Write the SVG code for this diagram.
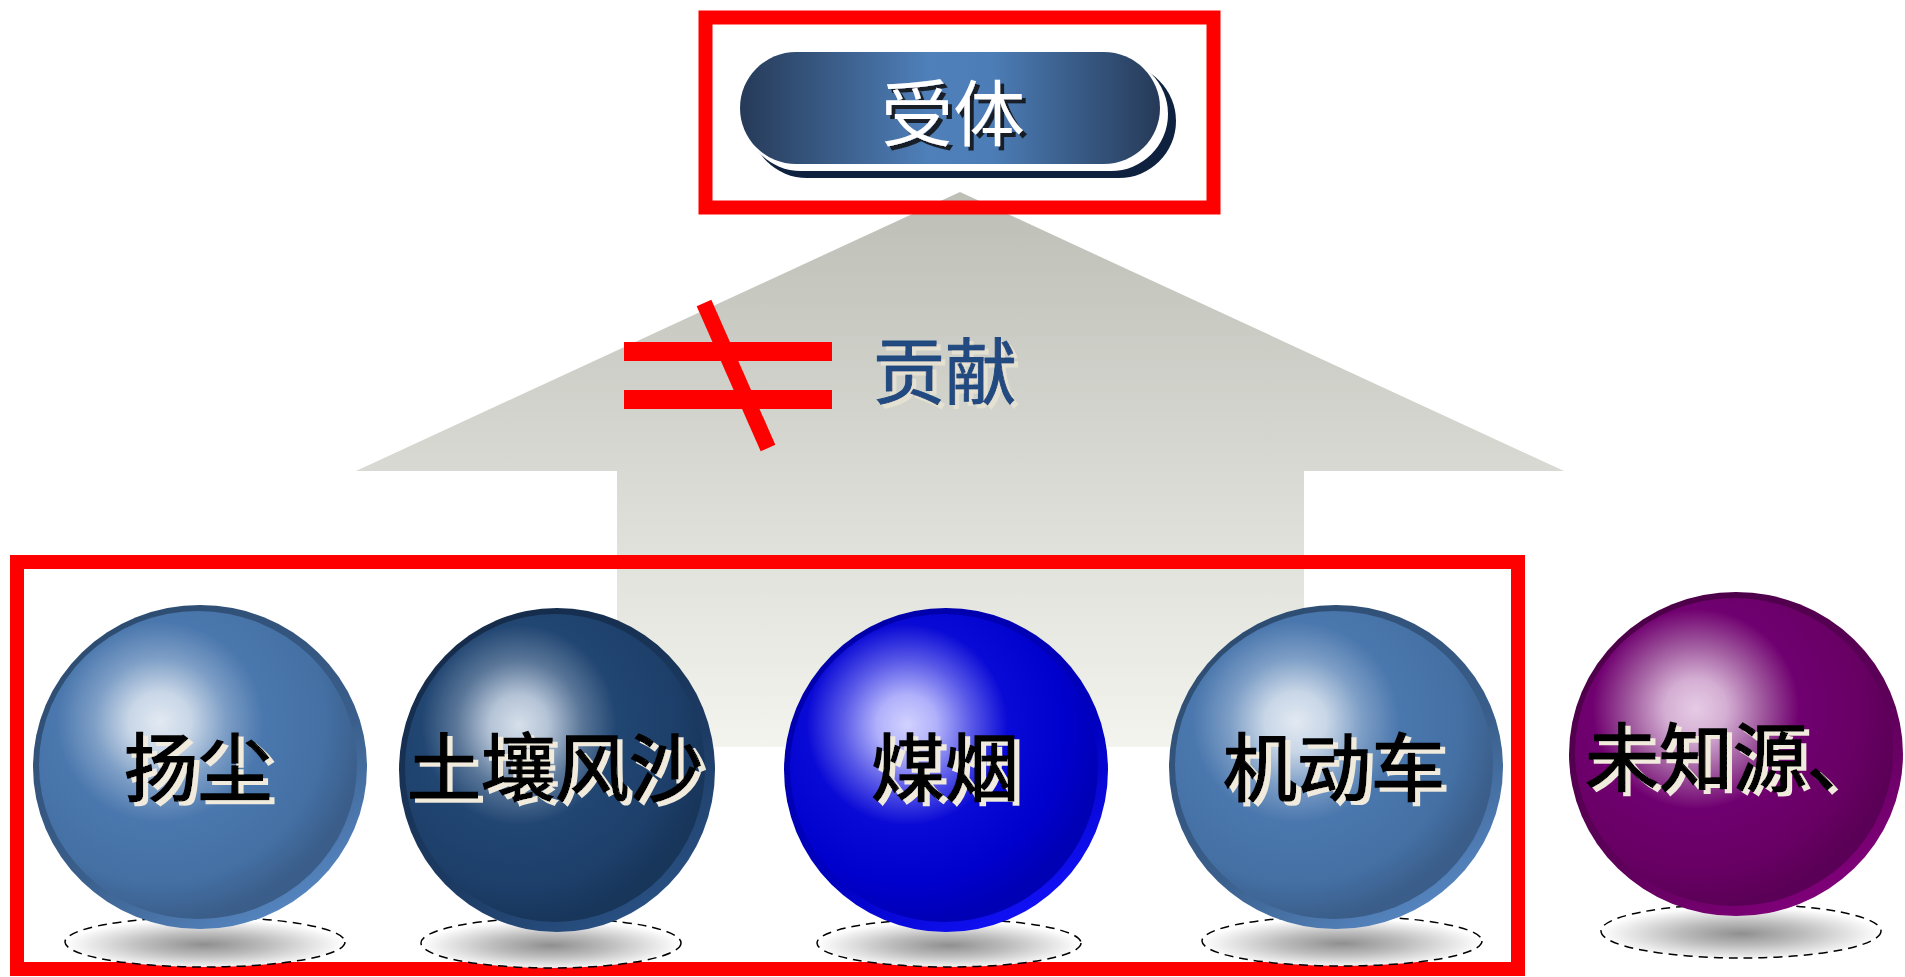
<svg xmlns="http://www.w3.org/2000/svg" width="1905" height="977" viewBox="0 0 1905 977">
<defs>
<style>
.frame{fill:none;stroke:#ff0000;stroke-width:14}
.lbl{font-family:"Noto Sans CJK SC","Noto Sans",sans-serif;font-weight:normal;font-size:74px;fill:#000;stroke:#000;stroke-width:1.6;filter:url(#lightSh)}
.shadow{stroke:#000;stroke-width:1.5;stroke-dasharray:9 6}
</style>
<filter id="lightSh" x="-10%" y="-20%" width="130%" height="150%">
<feFlood flood-color="#f0ebdc"/>
<feComposite in2="SourceAlpha" operator="in"/>
<feOffset dx="5" dy="4" result="s"/>
<feMerge><feMergeNode in="s"/><feMergeNode in="SourceGraphic"/></feMerge>
</filter>
<filter id="beigeSh" x="-10%" y="-20%" width="130%" height="150%">
<feFlood flood-color="#e4e0d2"/>
<feComposite in2="SourceAlpha" operator="in"/>
<feOffset dx="4" dy="4" result="s"/>
<feMerge><feMergeNode in="s"/><feMergeNode in="SourceGraphic"/></feMerge>
</filter>
<filter id="darkSh" x="-10%" y="-20%" width="130%" height="150%">
<feFlood flood-color="#111111" flood-opacity="0.85"/>
<feComposite in2="SourceAlpha" operator="in"/>
<feOffset dx="4" dy="4" result="s"/>
<feMerge><feMergeNode in="s"/><feMergeNode in="SourceGraphic"/></feMerge>
</filter>
<linearGradient id="arrowG" x1="0" y1="0" x2="0" y2="1">
<stop offset="0" stop-color="#bdbfb7"/>
<stop offset="0.5" stop-color="#d8d9d2"/>
<stop offset="1" stop-color="#f4f4ef"/>
</linearGradient>
<linearGradient id="pillG" x1="0" y1="0" x2="1" y2="0">
<stop offset="0" stop-color="#263a58"/>
<stop offset="0.45" stop-color="#4f80ba"/>
<stop offset="0.6" stop-color="#4c7db6"/>
<stop offset="1" stop-color="#263a58"/>
</linearGradient>
<radialGradient id="shadowG" cx="0.5" cy="0.55" r="0.5">
<stop offset="0" stop-color="#8f8f8f"/>
<stop offset="0.45" stop-color="#bdbdbd"/>
<stop offset="1" stop-color="#ffffff"/>
</radialGradient>
<linearGradient id="ring1" x1="0.2" y1="0" x2="0.8" y2="1">
<stop offset="0" stop-color="#2c4a6e"/>
<stop offset="0.6" stop-color="#3a5f8c"/>
<stop offset="1" stop-color="#5a8bc8"/>
</linearGradient>
<radialGradient id="body1" cx="0.38" cy="0.36" r="0.65">
<stop offset="0" stop-color="#e2e9f2"/>
<stop offset="0.15" stop-color="#c8d6e7"/>
<stop offset="0.32" stop-color="#7d9ec6"/>
<stop offset="0.5" stop-color="#4a77ad"/>
<stop offset="0.8" stop-color="#4470a4"/>
<stop offset="1" stop-color="#3a5d89"/>
</radialGradient>
<linearGradient id="ring2" x1="0.2" y1="0" x2="0.8" y2="1">
<stop offset="0" stop-color="#142a48"/>
<stop offset="0.6" stop-color="#1c3a62"/>
<stop offset="1" stop-color="#2b5488"/>
</linearGradient>
<radialGradient id="body2" cx="0.38" cy="0.36" r="0.65">
<stop offset="0" stop-color="#d6dfea"/>
<stop offset="0.15" stop-color="#b4c3d6"/>
<stop offset="0.32" stop-color="#5b7799"/>
<stop offset="0.5" stop-color="#214672"/>
<stop offset="0.8" stop-color="#1d3f6a"/>
<stop offset="1" stop-color="#18355a"/>
</radialGradient>
<linearGradient id="ring3" x1="0.2" y1="0" x2="0.8" y2="1">
<stop offset="0" stop-color="#0000a8"/>
<stop offset="0.6" stop-color="#0000c0"/>
<stop offset="1" stop-color="#1414ff"/>
</linearGradient>
<radialGradient id="body3" cx="0.38" cy="0.36" r="0.65">
<stop offset="0" stop-color="#d2d2ff"/>
<stop offset="0.15" stop-color="#b0b0fb"/>
<stop offset="0.32" stop-color="#5a5ae8"/>
<stop offset="0.5" stop-color="#0a0ad6"/>
<stop offset="0.8" stop-color="#0000cc"/>
<stop offset="1" stop-color="#0000b4"/>
</radialGradient>
<linearGradient id="ring5" x1="0.2" y1="0" x2="0.8" y2="1">
<stop offset="0" stop-color="#4a0046"/>
<stop offset="0.6" stop-color="#5e005a"/>
<stop offset="1" stop-color="#86007f"/>
</linearGradient>
<radialGradient id="body5" cx="0.38" cy="0.36" r="0.65">
<stop offset="0" stop-color="#e6cbe5"/>
<stop offset="0.15" stop-color="#d4aed3"/>
<stop offset="0.32" stop-color="#a05a9e"/>
<stop offset="0.5" stop-color="#700070"/>
<stop offset="0.8" stop-color="#680064"/>
<stop offset="1" stop-color="#5a0056"/>
</radialGradient>
</defs>
<rect width="1905" height="977" fill="#ffffff"/>

<g id="arrow">
<polygon points="960,192 1564,471 1304,471 1304,747 617,747 617,471 356,471" fill="url(#arrowG)"/>
</g>

<g id="receptor">
<rect x="705.5" y="17.5" width="508" height="190" class="frame"/>
<rect x="750" y="64" width="426" height="114" rx="57" fill="#0e223f"/>
<rect x="744" y="57" width="424" height="114" rx="57" fill="#ffffff"/>
<rect x="740" y="52" width="420" height="112" rx="56" fill="url(#pillG)"/>
<text x="953" y="140" text-anchor="middle" font-family="'Noto Sans CJK SC',sans-serif" font-size="72" fill="#ffffff" filter="url(#darkSh)">受体</text>
</g>

<g id="notequal">
<rect x="624" y="342" width="208" height="19" fill="#ff0000"/>
<rect x="624" y="390" width="208" height="19" fill="#ff0000"/>
<line x1="704" y1="303" x2="768" y2="448" stroke="#ff0000" stroke-width="16"/>
</g>

<g id="contribution">
<text x="873" y="398" font-family="'Noto Sans CJK SC',sans-serif" font-size="72" fill="#204a80" stroke="#204a80" stroke-width="1" filter="url(#beigeSh)">贡献</text>
</g>

<g id="sources-frame">
<rect x="17" y="562" width="1501" height="407" class="frame"/>
</g>

<g id="connectors"></g>

<g id="dust">
<ellipse cx="205" cy="942" rx="140" ry="25" fill="url(#shadowG)" class="shadow"/>
<ellipse cx="200" cy="767" rx="167" ry="162" fill="url(#ring1)"/>
<ellipse cx="198" cy="765" rx="159" ry="154" fill="url(#body1)"/>
<text x="198" y="795" text-anchor="middle" class="lbl">扬尘</text>
</g>

<g id="soil">
<ellipse cx="551" cy="943" rx="130" ry="25" fill="url(#shadowG)" class="shadow"/>
<ellipse cx="557" cy="770" rx="158" ry="162" fill="url(#ring2)"/>
<ellipse cx="555" cy="768" rx="150" ry="154" fill="url(#body2)"/>
<text x="555" y="795" text-anchor="middle" class="lbl">土壤风沙</text>
</g>

<g id="coal">
<ellipse cx="949" cy="943" rx="132" ry="24" fill="url(#shadowG)" class="shadow"/>
<ellipse cx="946" cy="770" rx="162" ry="162" fill="url(#ring3)"/>
<ellipse cx="944" cy="768" rx="154" ry="154" fill="url(#body3)"/>
<text x="945" y="795" text-anchor="middle" class="lbl">煤烟</text>
</g>

<g id="vehicle">
<ellipse cx="1342" cy="941" rx="140" ry="25" fill="url(#shadowG)" class="shadow"/>
<ellipse cx="1336" cy="767" rx="167" ry="162" fill="url(#ring1)"/>
<ellipse cx="1334" cy="765" rx="159" ry="154" fill="url(#body1)"/>
<text x="1334" y="795" text-anchor="middle" class="lbl">机动车</text>
</g>

<g id="unknown">
<ellipse cx="1741" cy="931" rx="140" ry="27" fill="url(#shadowG)" class="shadow"/>
<ellipse cx="1736" cy="754" rx="167" ry="162" fill="url(#ring5)"/>
<ellipse cx="1734" cy="752" rx="159" ry="154" fill="url(#body5)"/>
<text x="1585" y="785" class="lbl">未知源、</text>
</g>
</svg>
